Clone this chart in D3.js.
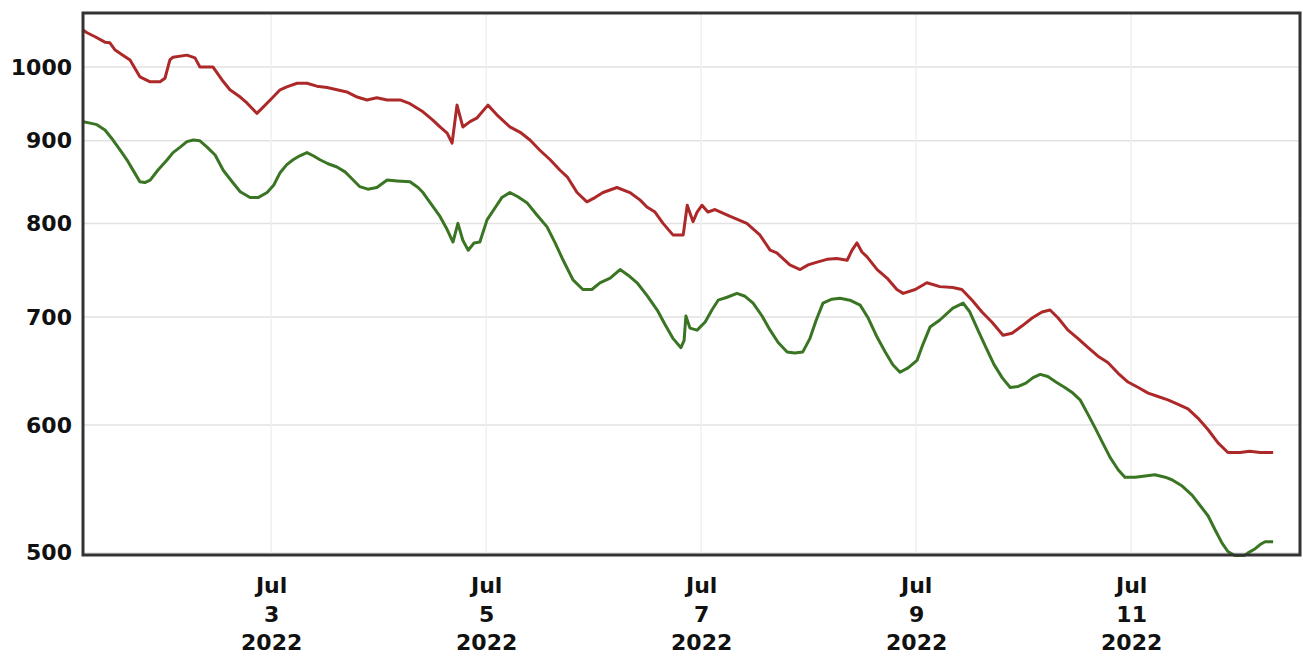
<!DOCTYPE html>
<html>
<head>
<meta charset="utf-8">
<script src="https://cdn.jsdelivr.net/npm/d3@7"></script>
<style>
  html, body { margin: 0; padding: 0; background: #fff; }
  svg { display: block; }
  text { font-family: "DejaVu Sans", Verdana, sans-serif; font-weight: bold; fill: #111; }
</style>
</head>
<body>
<svg id="chart" width="1303" height="658"></svg>
<script>
// ---- data (hours since 2022-07-01 00:00) ----
const redHours = [6.0,6.9,8.7,10.9,12.0,13.1,14.9,16.5,18.7,21.0,23.2,24.3,25.4,26.1,29.2,31.0,32.1,35.0,37.0,38.8,41.1,42.6,44.8,46.0,47.8,50.0,51.5,53.8,56.0,58.2,60.5,62.7,64.9,67.2,69.4,71.6,73.9,76.8,79.0,81.9,84.1,85.7,87.3,88.4,89.5,90.8,92.4,94.0,96.4,98.4,101.3,103.6,105.8,108.0,110.3,112.5,114.1,116.3,118.5,120.3,122.1,125.2,128.1,130.4,131.9,133.7,135.5,137.7,140.0,140.9,142.2,143.1,144.2,145.5,147.1,150.5,154.2,157.1,159.4,160.9,163.8,166.1,167.9,169.9,172.1,174.3,176.6,177.7,178.8,179.9,181.0,183.3,185.5,187.7,189.1,191.8,194.4,197.3,200.2,202.2,204.5,206.7,208.9,211.4,213.4,215.6,217.9,220.1,221.9,223.7,225.9,228.1,230.4,232.6,234.8,237.1,239.3,241.6,243.8,246.0,248.2,250.5,252.7,254.9,257.2,259.4,261.6,264.3,266.5,268.8,271.7];
const redValues = [1054,1050,1044,1036,1035,1025,1017,1010,986,979,979,984,1010,1014,1017,1013,1000,1000,982,968,958,950,936,943,954,968,972,977,977,973,971,968,965,958,954,957,954,954,949,938,927,918,910,897,947,918,925,930,947,934,918,911,901,888,876,863,855,836,825,830,836,842,836,827,819,813,800,787,787,821,802,813,821,813,816,808,800,787,770,767,754,749,754,757,760,761,759,770,778,768,763,749,740,728,724,728,735,731,730,728,717,705,695,682,684,691,699,705,707,699,687,679,670,662,656,646,638,633,628,625,622,618,614,606,596,585,577,577,578,577,577];

const greenHours = [6.0,7.6,9.1,10.9,12.7,14.3,15.8,17.4,18.7,19.8,21.0,22.7,24.8,26.1,27.7,29.2,30.6,32.1,33.7,35.5,37.3,39.3,41.1,43.3,45.1,47.1,48.6,50.0,51.5,52.9,54.4,56.0,57.4,58.9,60.7,62.7,64.5,65.6,67.8,69.6,71.6,73.9,76.1,79.0,80.8,81.9,83.9,85.7,87.3,88.6,89.7,90.8,92.0,93.3,94.6,96.2,98.0,99.5,101.3,103.1,105.1,107.3,109.6,111.4,113.2,115.4,117.6,119.6,121.4,123.7,125.9,127.7,129.7,131.9,134.2,136.0,137.7,139.5,140.2,140.6,141.5,143.1,144.9,146.4,147.8,149.8,152.0,153.8,155.6,157.6,159.4,161.2,163.2,164.9,166.7,168.3,169.7,171.2,173.2,175.0,177.2,179.5,181.3,183.3,185.1,186.8,188.4,190.2,192.2,193.5,195.1,197.3,200.2,202.5,204.0,205.8,207.6,209.4,211.2,213.0,214.8,216.5,218.1,219.7,221.4,223.2,225.2,227.0,228.6,230.4,231.9,233.5,235.3,237.1,238.6,240.9,243.1,245.3,247.6,249.1,251.4,253.6,255.4,257.2,258.7,260.3,261.6,263.2,264.8,266.1,267.7,268.8,269.9,271.7];
const greenValues = [925,923,921,914,901,888,876,861,849,848,851,863,876,885,892,899,901,900,892,882,863,849,837,830,830,836,845,860,870,876,881,885,881,876,871,867,861,855,843,840,842,851,850,849,842,836,821,808,793,779,800,781,770,778,779,804,818,830,836,831,824,810,796,778,759,738,728,728,735,740,749,743,735,722,707,692,679,670,677,701,689,687,695,707,717,720,724,721,714,701,687,675,666,665,666,679,697,714,718,719,717,712,699,680,666,654,647,651,658,673,690,697,709,714,705,687,670,654,642,633,634,637,642,645,643,638,633,628,622,609,598,586,573,563,557,557,558,559,557,555,550,543,535,527,517,507,501,498,497,500,503,506,508,508];

const tickDays = [3, 5, 7, 9, 11];
const tickMonth = "Jul";
const tickYear = "2022";
const yTicks = [500, 600, 700, 800, 900, 1000];

// ---- layout ----
const svg = d3.select("#chart");
const mLeft = 83, mTop = 13, mRight = 1300, mBottom = 555;
const t0 = Date.UTC(2022, 6, 1, 0, 0);
const hourMs = 3600 * 1000;
const toDate = h => new Date(t0 + h * hourMs);

const x = d3.scaleUtc()
  .domain([toDate(6), toDate(277.7)])
  .range([mLeft, mRight]);
const y = d3.scaleLog()
  .domain([498.5, 1080])
  .range([mBottom, mTop]);

// grid
const grid = svg.append("g");
grid.selectAll("line.h").data(yTicks).join("line")
  .attr("x1", mLeft).attr("x2", mRight)
  .attr("y1", d => y(d)).attr("y2", d => y(d))
  .attr("stroke", "#e2e2e2").attr("stroke-width", 1.5);
const tickDates = tickDays.map(d => new Date(Date.UTC(2022, 6, d)));
grid.selectAll("line.v").data(tickDates).join("line")
  .attr("x1", d => x(d)).attr("x2", d => x(d))
  .attr("y1", mTop).attr("y2", mBottom)
  .attr("stroke", "#efefef").attr("stroke-width", 1.5);

// y axis labels
const yAxis = d3.axisLeft(y).tickValues(yTicks).tickSize(0).tickPadding(11).tickFormat(d3.format("d"));
const gy = svg.append("g").attr("transform", `translate(${mLeft},0)`).call(yAxis);
gy.select(".domain").remove();
gy.selectAll("text").style("font-size", "22px").style("font-family", "'DejaVu Sans', Verdana, sans-serif")
  .style("font-weight", "bold").attr("fill", "#111");

// x axis labels
const xAxis = d3.axisBottom(x).tickValues(tickDates).tickSize(0).tickFormat("");
const gx = svg.append("g").attr("transform", `translate(0,${mBottom})`).call(xAxis);
gx.select(".domain").remove();
gx.selectAll(".tick").each(function(d) {
  const t = d3.select(this).select("text");
  t.attr("y", 0).attr("dy", null).style("font-size", "22px").attr("fill", "#111")
    .style("font-family", "'DejaVu Sans', Verdana, sans-serif").style("font-weight", "bold");
  t.append("tspan").attr("x", 0).attr("y", 38).text(tickMonth);
  t.append("tspan").attr("x", 0).attr("y", 67).text(d.getUTCDate());
  t.append("tspan").attr("x", 0).attr("y", 95).text(tickYear);
});

// clip
svg.append("clipPath").attr("id", "plotclip").append("rect")
  .attr("x", mLeft).attr("y", mTop).attr("width", mRight - mLeft).attr("height", mBottom - mTop + 2);

const line = d3.line().x(d => x(d[0])).y(d => y(d[1]));
const redData = redHours.map((h, i) => [toDate(h), redValues[i]]);
const greenData = greenHours.map((h, i) => [toDate(h), greenValues[i]]);

const lines = svg.append("g").attr("clip-path", "url(#plotclip)");
lines.append("path").datum(redData).attr("d", line)
  .attr("fill", "none").attr("stroke", "#ad2929").attr("stroke-width", 3).attr("stroke-linejoin", "round");
lines.append("path").datum(greenData).attr("d", line)
  .attr("fill", "none").attr("stroke", "#3a7524").attr("stroke-width", 3).attr("stroke-linejoin", "round");

// frame
svg.append("rect").attr("x", mLeft).attr("y", mTop).attr("width", mRight - mLeft).attr("height", mBottom - mTop)
  .attr("fill", "none").attr("stroke", "#333").attr("stroke-width", 3);
</script>
</body>
</html>
